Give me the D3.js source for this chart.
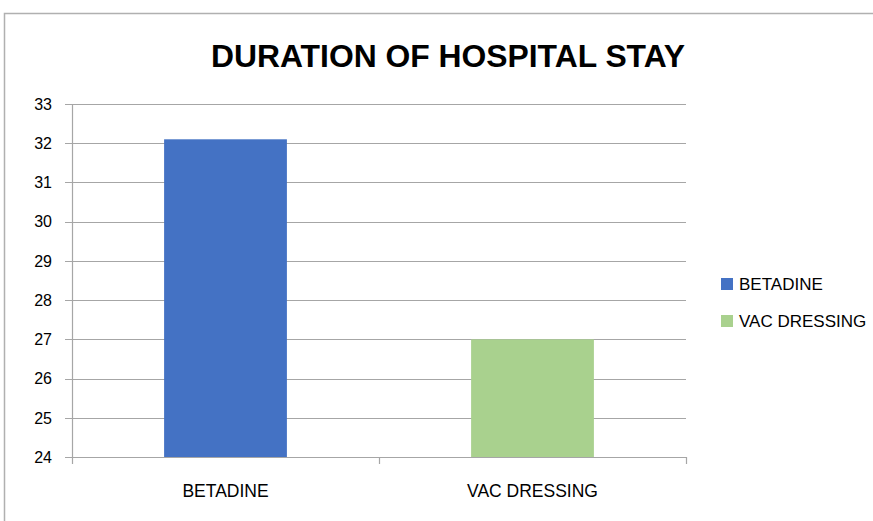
<!DOCTYPE html>
<html><head><meta charset="utf-8">
<script src="https://cdn.jsdelivr.net/npm/d3@7"></script>
<style>body{margin:0;background:#fff;} svg{display:block;}</style>
</head><body><svg id="c" width="873" height="521"></svg>
<script>
const categories = ["BETADINE", "VAC DRESSING"];
const values = [32.1, 27.0];
const colors = ["#4472c4", "#a9d18e"];
const yTicks = [24, 25, 26, 27, 28, 29, 30, 31, 32, 33];
const title = "DURATION OF HOSPITAL STAY";

const svg = d3.select("#c");
const font = "Liberation Sans, Arial, sans-serif";
const m = {left: 72, right: 686, top: 104, bottom: 457};

svg.append("rect").attr("x", 4.5).attr("y", 13.5).attr("width", 900).attr("height", 600)
  .attr("fill", "#fff").attr("stroke", "#b0b0b0").attr("stroke-width", 1.5);

svg.append("text").attr("x", 448).attr("y", 67).attr("text-anchor", "middle")
  .attr("font-family", font).attr("font-weight", "bold").attr("font-size", 32)
  .attr("textLength", 474).attr("lengthAdjust", "spacingAndGlyphs")
  .attr("fill", "#000").text(title);

const y = d3.scaleLinear().domain([24, 33]).range([m.bottom, m.top]);
const x = d3.scaleBand().domain(categories).range([m.left, m.right]).paddingInner(0).paddingOuter(0);

// gridlines
svg.append("g").selectAll("line").data(yTicks).join("line")
  .attr("x1", m.left - 7).attr("x2", m.right)
  .attr("y1", d => Math.round(y(d)) + 0.5).attr("y2", d => Math.round(y(d)) + 0.5)
  .attr("stroke", "#a6a6a6").attr("stroke-width", 1.2);

// bars
const bw = x.bandwidth() * 0.4;
svg.append("g").selectAll("rect").data(categories).join("rect")
  .attr("x", d => x(d) + x.bandwidth() / 2 - bw / 2)
  .attr("width", bw)
  .attr("y", (d, i) => y(values[i]))
  .attr("height", (d, i) => y(24) - y(values[i]))
  .attr("fill", (d, i) => colors[i]);

// y axis line
svg.append("line").attr("x1", m.left + 0.5).attr("x2", m.left + 0.5)
  .attr("y1", m.top).attr("y2", m.bottom).attr("stroke", "#a6a6a6").attr("stroke-width", 1.2);

// x axis ticks
const xt = [m.left, x(categories[1]), m.right];
svg.append("g").selectAll("line").data(xt).join("line")
  .attr("x1", d => Math.round(d) + 0.5).attr("x2", d => Math.round(d) + 0.5)
  .attr("y1", m.bottom).attr("y2", m.bottom + 7)
  .attr("stroke", "#a6a6a6").attr("stroke-width", 1.2);

// y tick labels
svg.append("g").selectAll("text").data(yTicks).join("text")
  .attr("x", 52).attr("y", d => y(d)).attr("dy", "0.36em").attr("text-anchor", "end")
  .attr("font-family", font).attr("font-size", 16).attr("fill", "#000").text(d => d);

// category labels
svg.append("g").selectAll("text").data(categories).join("text")
  .attr("x", d => x(d) + x.bandwidth() / 2).attr("y", 497).attr("text-anchor", "middle")
  .attr("font-family", font).attr("font-size", 17.5).attr("fill", "#000").text(d => d);

// legend
const lg = svg.append("g").selectAll("g").data(categories).join("g")
  .attr("transform", (d, i) => `translate(721,${278 + i * 37})`);
lg.append("rect").attr("width", 12).attr("height", 12).attr("fill", (d, i) => colors[i]);
lg.append("text").attr("x", 18).attr("y", 6).attr("dy", "0.36em")
  .attr("font-family", font).attr("font-size", 17).attr("fill", "#000").text(d => d);
</script></body></html>
